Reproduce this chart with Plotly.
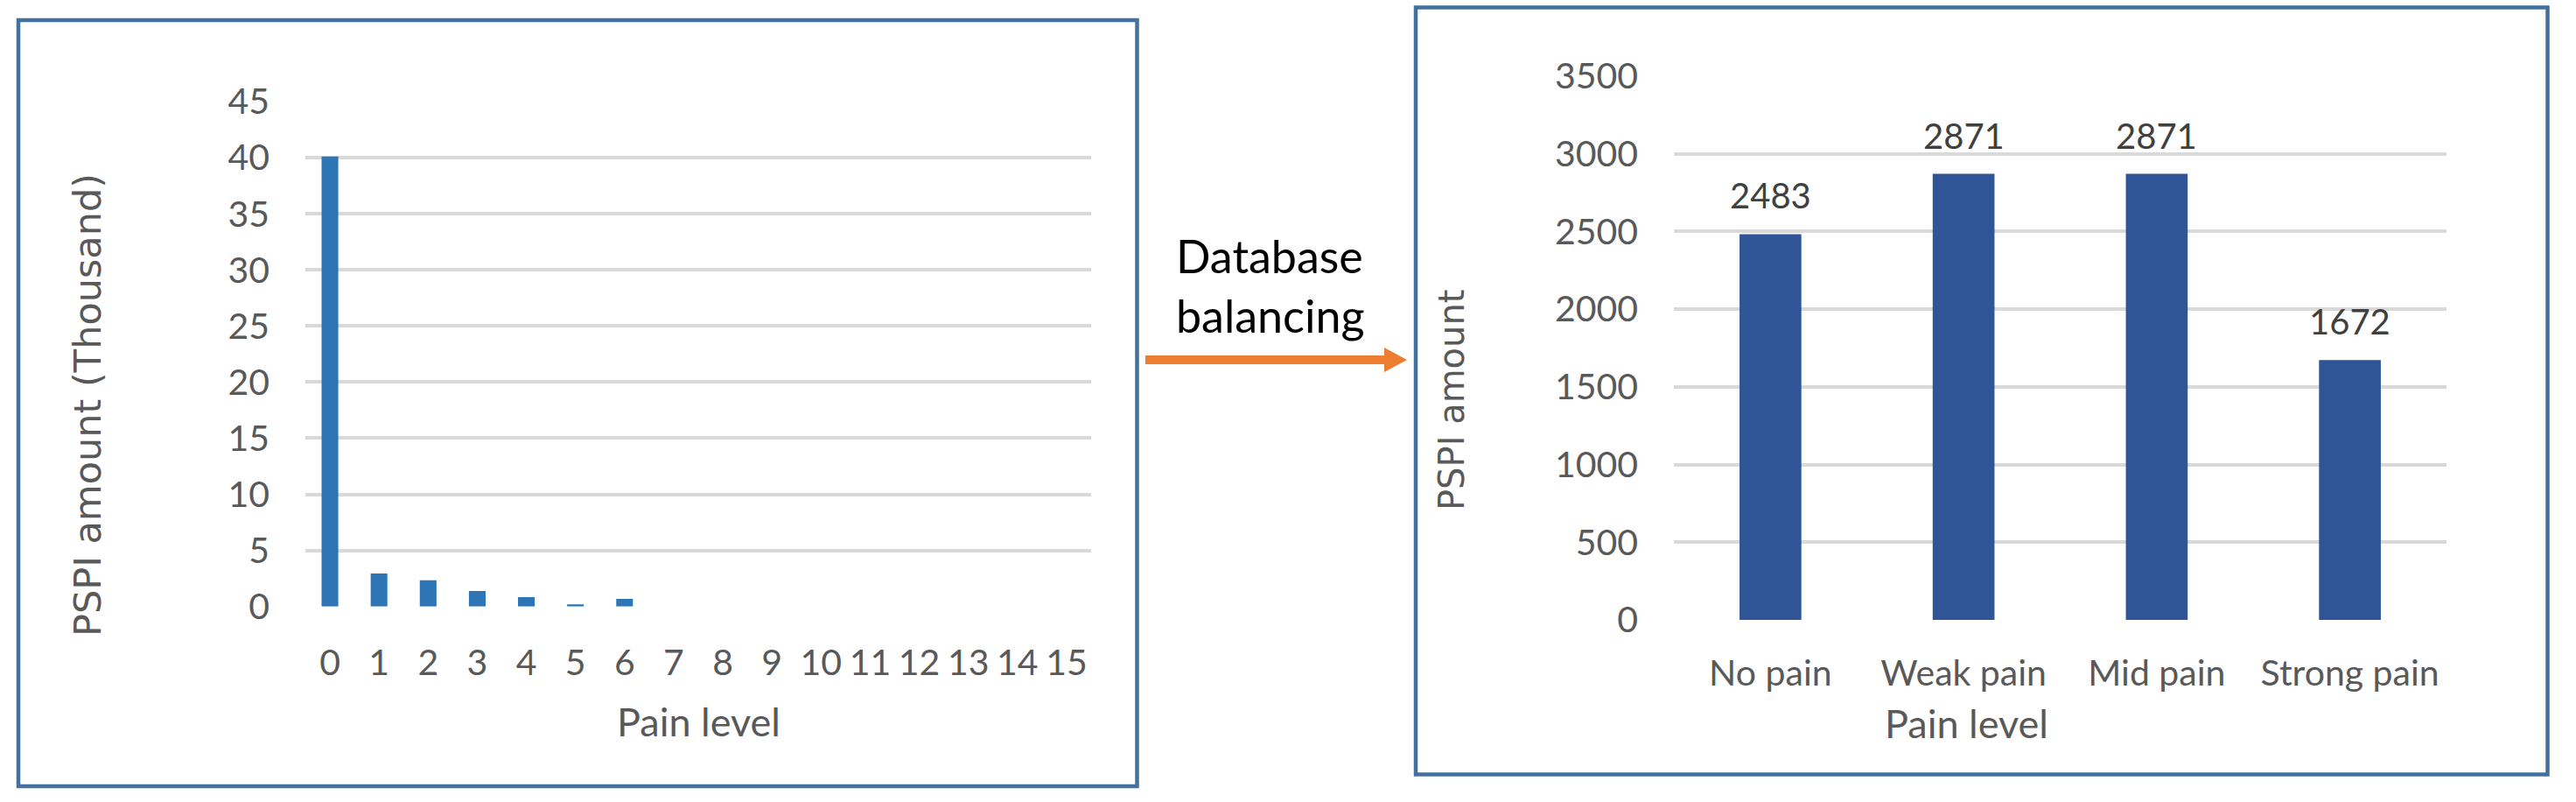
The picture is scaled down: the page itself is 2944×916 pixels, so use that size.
import plotly.graph_objects as go

# left chart: raw PSPI distribution (thousands)
PAIN_LEVELS = [str(i) for i in range(16)]
PSPI_RAW = [40.1, 2.95, 2.33, 1.39, 0.84, 0.2, 0.68, 0, 0, 0, 0, 0, 0, 0, 0, 0]
RAW_TICKS = [0, 5, 10, 15, 20, 25, 30, 35, 40, 45]

# right chart: after balancing
CLASSES = ["No pain", "Weak pain", "Mid pain", "Strong pain"]
PSPI_BAL = [2483, 2871, 2871, 1672]
BAL_TICKS = [0, 500, 1000, 1500, 2000, 2500, 3000, 3500]

W, H = 2944, 916
TXT = "#595959"
GRID = "#D9D9D9"
BORDER = "#41719C"
ORANGE = "#ED7D31"
FONT = "Lato, Calibri, sans-serif"
TITLE_FONT = "DejaVu Sans, Verdana, sans-serif"


def px(x):
    return x / W


def py(y):
    return 1 - y / H


fig = go.Figure()

fig.add_trace(go.Bar(
    x=PAIN_LEVELS, y=PSPI_RAW, marker=dict(color="#2E75B6", line=dict(width=0)),
    xaxis="x", yaxis="y", showlegend=False,
))
fig.add_trace(go.Bar(
    x=CLASSES, y=PSPI_BAL, marker=dict(color="#2F5597", line=dict(width=0)),
    xaxis="x2", yaxis="y2", showlegend=False, width=0.32,
))

axis_common = dict(
    showline=False, zeroline=False, ticks="", automargin=False,
    tickfont=dict(family=FONT, size=41, color=TXT),
    fixedrange=True,
)

fig.update_layout(
    width=W, height=H,
    margin=dict(l=0, r=0, t=0, b=0, pad=0),
    paper_bgcolor="white", plot_bgcolor="white",
    bargap=0.66,
    xaxis=dict(domain=[px(349), px(1247)], anchor="y", showgrid=False,
               ticklabelstandoff=36, **axis_common),
    yaxis=dict(domain=[py(692.7), py(116)], anchor="x", range=[0, 45],
               tickvals=RAW_TICKS, showgrid=True, gridcolor=GRID, gridwidth=4,
               ticklabelstandoff=40, **axis_common),
    xaxis2=dict(domain=[px(1913), px(2796)], anchor="y2", showgrid=False,
                ticklabelstandoff=33, **axis_common),
    yaxis2=dict(domain=[py(708), py(87)], anchor="x2", range=[0, 3500],
                tickvals=BAL_TICKS, showgrid=True, gridcolor=GRID, gridwidth=4,
                ticklabelstandoff=40, **axis_common),
)

annotations = []
# value labels on balanced bars
for c, v in zip(CLASSES, PSPI_BAL):
    annotations.append(dict(
        x=c, y=v, xref="x2", yref="y2", text=str(v), showarrow=False,
        xanchor="center", yanchor="bottom", yshift=18,
        font=dict(family=FONT, size=40, color="#404040"),
    ))

# axis titles
annotations += [
    dict(x=px(798), y=py(824), text="Pain level",
         font=dict(family=FONT, size=45, color=TXT)),
    dict(x=px(2247), y=py(826), text="Pain level",
         font=dict(family=FONT, size=45, color=TXT)),
    dict(x=px(100), y=py(463), text="PSPI amount (Thousand)", textangle=-90,
         font=dict(family=TITLE_FONT, size=43, color=TXT)),
    dict(x=px(1659), y=py(457), text="PSPI amount", textangle=-90,
         font=dict(family=TITLE_FONT, size=40, color=TXT)),
]
for a in annotations[len(CLASSES):]:
    a.update(xref="paper", yref="paper", showarrow=False,
             xanchor="center", yanchor="middle")
annotations.append(dict(
    x=px(1342), y=py(326), xref="paper", yref="paper",
    text="Database<br>balancing", showarrow=False, align="left",
    xanchor="left", yanchor="middle",
    font=dict(family=FONT, size=52, color="black"),
))
fig.update_layout(annotations=annotations)

# arrow between the charts: shaft + head
fig.add_shape(type="line", xref="paper", yref="paper",
              x0=px(1309), x1=px(1584), y0=py(411), y1=py(411),
              line=dict(color=ORANGE, width=10))
fig.add_shape(type="path", xref="paper", yref="paper",
              path=f"M {px(1582)},{py(397)} L {px(1608)},{py(411)} L {px(1582)},{py(425)} Z",
              fillcolor=ORANGE, line=dict(width=0))

# frames around each chart
fig.add_shape(type="rect", xref="paper", yref="paper",
              x0=px(21), x1=px(1299.5), y0=py(898), y1=py(23),
              line=dict(color=BORDER, width=4.5))
fig.add_shape(type="rect", xref="paper", yref="paper",
              x0=px(1618), x1=px(2911.5), y0=py(884.5), y1=py(8.5),
              line=dict(color=BORDER, width=4.5))

# drop the default 8px body margin so the figure sits flush with the window
fig.write_html(
    "out.html",
    config={"displayModeBar": False},
    post_script="document.body.style.margin='0';"
                "document.documentElement.style.overflow='hidden';",
)
